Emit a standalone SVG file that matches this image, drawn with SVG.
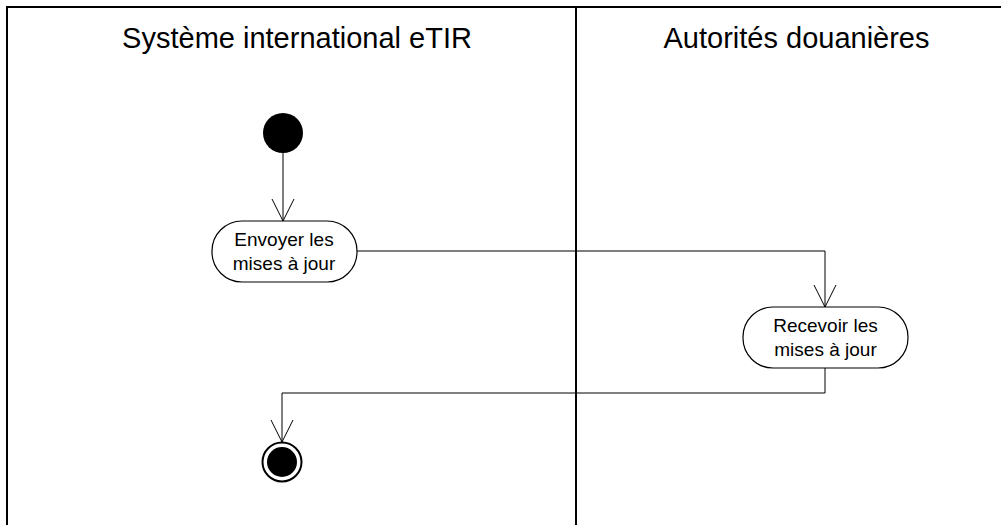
<svg xmlns="http://www.w3.org/2000/svg" width="1001" height="525" viewBox="0 0 1001 525">
<style>
.lane{fill:none;stroke:#000;stroke-width:2}
.title{font-family:"Liberation Sans",Arial,sans-serif;font-size:29px;fill:#000;text-anchor:middle}
.act{fill:#fff;stroke:#000;stroke-width:1.2}
.lbl{font-family:"Liberation Sans",Arial,sans-serif;font-size:19px;fill:#000;text-anchor:middle}
.conn{fill:none;stroke:#000;stroke-width:1}
</style>
<defs>
<marker id="open" viewBox="0 0 24 24" refX="22" refY="12" markerWidth="24" markerHeight="24" markerUnits="userSpaceOnUse" orient="auto">
<path d="M0,1 L22,12 L0,23" fill="none" stroke="#000" stroke-width="1"/>
</marker>
</defs>
<rect width="1001" height="525" fill="#fff"/>
<g id="lanes">
<path class="lane" d="M7,540 L7,7 L1010,7"/>
<line class="lane" x1="576" y1="7" x2="576" y2="540"/>
<text class="title" x="297" y="48">Système international eTIR</text>
<text class="title" x="796.5" y="48">Autorités douanières</text>
</g>
<g id="connectors">
<path class="conn" d="M283,153 L283,221" marker-end="url(#open)"/>
<path class="conn" d="M357,251 L825,251 L825,307" marker-end="url(#open)"/>
<path class="conn" d="M825,368 L825,393 L282,393 L282,442" marker-end="url(#open)"/>
</g>
<g id="start">
<circle cx="283" cy="133" r="20" fill="#000"/>
</g>
<g id="envoyer">
<rect class="act" x="212" y="221" width="145" height="61" rx="30" ry="30"/>
<text class="lbl" x="284" y="245.5">Envoyer les</text>
<text class="lbl" x="284" y="269.5">mises à jour</text>
</g>
<g id="recevoir">
<rect class="act" x="743" y="307" width="165" height="61" rx="30" ry="30"/>
<text class="lbl" x="825.5" y="331.5">Recevoir les</text>
<text class="lbl" x="825.5" y="355.5">mises à jour</text>
</g>
<g id="end">
<circle cx="282" cy="462" r="19.5" fill="#fff" stroke="#000" stroke-width="2"/>
<circle cx="282" cy="462" r="15" fill="#000"/>
</g>
</svg>
